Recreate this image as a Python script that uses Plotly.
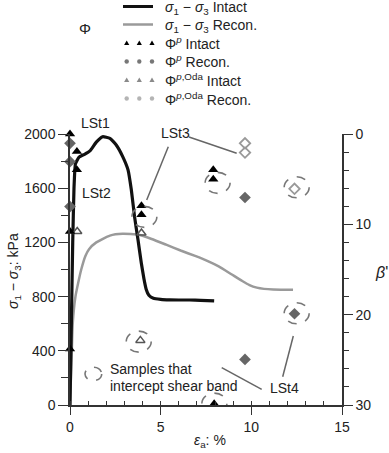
import plotly.graph_objects as go

# ---------------- data ----------------
intact_x = [0, 0.05, 0.1, 0.15, 0.22, 0.3, 0.5, 0.8, 1.1, 1.45, 1.8, 2.2, 2.55, 2.9, 3.2, 3.38,
            3.56, 3.75, 3.93, 4.08, 4.2, 4.35, 4.6, 5.0, 5.5, 6.0, 6.6, 7.2, 7.95]
intact_y = [0, 400, 800, 1200, 1600, 1780, 1830, 1850, 1875, 1940, 1980, 1968, 1919, 1835, 1735, 1590,
            1390, 1220, 1050, 930, 855, 810, 788, 780, 776, 775, 775, 772, 768]

recon_x = [0, 0.05, 0.1, 0.15, 0.3, 0.45, 0.62, 0.85, 1.05, 1.45, 2.2, 2.9, 3.8, 4.5, 5.3, 6.1,
           6.9, 7.6, 8.2, 8.9, 9.5, 9.9, 10.3, 10.7, 11.2, 11.7, 12.3]
recon_y = [0, 200, 400, 600, 800, 900, 1000, 1100, 1150, 1200, 1250, 1263, 1256, 1225, 1183, 1140,
           1100, 1062, 1023, 965, 915, 885, 866, 857, 852, 851, 850]

# Phi values plotted against beta' (right axis)
phi_p_int_x = [0, 0.38, 0.38, 0, 0, 3.94, 3.94, 7.9, 7.9, 7.95]
phi_p_int_b = [0, 1.95, 3.97, 10.8, 23.8, 7.95, 8.94, 3.97, 5.0, 29.85]

phi_p_rec_x = [0, 0, 0, 9.65, 12.38, 9.65]
phi_p_rec_b = [1.03, 3.06, 8.03, 7.03, 19.9, 24.95]

phi_oda_int_x = [0.4, 3.94, 3.88]
phi_oda_int_b = [10.8, 10.96, 22.85]

phi_oda_rec_x = [9.65, 9.65, 12.38]
phi_oda_rec_b = [1.03, 2.06, 6.07]

# highlighted samples (dashed ellipses), x and beta'
circ_x = [4.1, 8.14, 12.5, 12.5, 3.79, 7.96]
circ_b = [9.17, 5.41, 5.9, 19.85, 22.98, 29.85]

# ---------------- layout geometry ----------------
W, H = 389, 453
ML, MR, MT, MB = 70, 47, 134, 48
PW, PH = W - ML - MR, H - MT - MB
XR, YR = (0, 15), (0, 2000)


def pxx(p):  # pixel x -> paper
    return (p - ML) / PW


def pxy(p):  # pixel y -> paper
    return (H - MB - p) / PH


INK = "#222222"
FONT = "Arial, Liberation Sans, sans-serif"

fig = go.Figure()

fig.add_trace(go.Scatter(x=recon_x, y=recon_y, mode="lines",
                         line=dict(color="#9a9a9a", width=2.5, shape="spline", smoothing=0.5),
                         showlegend=False, hoverinfo="skip"))
fig.add_trace(go.Scatter(x=intact_x, y=intact_y, mode="lines",
                         line=dict(color="#111111", width=3.2, shape="spline", smoothing=0.4),
                         showlegend=False, hoverinfo="skip"))

fig.add_trace(go.Scatter(x=phi_p_rec_x, y=phi_p_rec_b, yaxis="y2", mode="markers", cliponaxis=False,
                         marker=dict(symbol="diamond", size=9, color="#666666"), showlegend=False))
fig.add_trace(go.Scatter(x=phi_oda_rec_x, y=phi_oda_rec_b, yaxis="y2", mode="markers", cliponaxis=False,
                         marker=dict(symbol="diamond-open", size=8, color="#999999", line=dict(width=1.8)),
                         showlegend=False))
fig.add_trace(go.Scatter(x=phi_oda_int_x, y=phi_oda_int_b, yaxis="y2", mode="markers", cliponaxis=False,
                         marker=dict(symbol="triangle-up-open", size=8, color="#555555", line=dict(width=1.5)),
                         showlegend=False))
fig.add_trace(go.Scatter(x=phi_p_int_x, y=phi_p_int_b, yaxis="y2", mode="markers", cliponaxis=False,
                         marker=dict(symbol="triangle-up", size=9, color="#000000"), showlegend=False))

# ---------------- custom legend ----------------
rows_y = [8.5, 25.5, 43, 61.5, 80, 98.5]
leg_texts = [
    "<i>σ</i><sub>1</sub> − <i>σ</i><sub>3</sub> Intact",
    "<i>σ</i><sub>1</sub> − <i>σ</i><sub>3</sub> Recon.",
    "Φ<sup><i>p</i></sup> Intact",
    "Φ<sup><i>p</i></sup> Recon.",
    "Φ<sup><i>p</i>,Oda</sup> Intact",
    "Φ<sup><i>p</i>,Oda</sup> Recon.",
]
shapes = []
annotations = []
for ry, col, w in [(rows_y[0] - 2, "#111111", 3), (rows_y[1] - 1, "#9a9a9a", 2.5)]:
    shapes.append(dict(type="line", xref="paper", yref="paper", x0=pxx(123), x1=pxx(153),
                       y0=pxy(ry), y1=pxy(ry), line=dict(color=col, width=w)))
leg_mk = [("tri", "#000000"), ("dot", "#777777"), ("tri", "#8a8a8a"), ("dot", "#b4b4b4")]
for i, (sym, col) in enumerate(leg_mk):
    ry = rows_y[i + 2]
    for mx in (126.7, 139.3, 152):
        base = dict(xref="paper", yref="paper", xsizemode="pixel", ysizemode="pixel",
                    xanchor=pxx(mx), yanchor=pxy(ry), fillcolor=col, line=dict(width=0))
        if sym == "tri":
            shapes.append(dict(type="path", path="M -2.6 -2 L 2.6 -2 L 0 2.6 Z", **base))
        else:
            shapes.append(dict(type="circle", x0=-2.2, x1=2.2, y0=-2.2, y1=2.2, **base))
for ry, t in zip(rows_y, leg_texts):
    annotations.append(dict(x=pxx(163), y=pxy(ry), xref="paper", yref="paper", text=t, showarrow=False,
                            xanchor="left", yanchor="middle", font=dict(size=14, color=INK, family=FONT)))

# ---------------- dashed ellipses ----------------
for cx, cb in zip(circ_x, circ_b):
    shapes.append(dict(type="circle", xref="x", yref="y2", xsizemode="pixel", ysizemode="pixel",
                       xanchor=cx, yanchor=cb, x0=-12.5, x1=12.5, y0=-10.5, y1=10.5,
                       line=dict(color="#777777", width=1.6, dash="dash")))
# legend ellipse for "Samples that intercept shear band"
shapes.append(dict(type="circle", xref="paper", yref="paper", x0=pxx(85), x1=pxx(101.7),
                   y0=pxy(380.7), y1=pxy(367.3), line=dict(color="#777777", width=1.6, dash="dash")))

# ---------------- leader lines ----------------
for (a, b, c, d) in [(168.3, 146.7, 146.7, 200), (189, 137, 236.7, 153.3),
                     (282.7, 376.7, 293.3, 336), (221.7, 367.7, 261.7, 389.3)]:
    shapes.append(dict(type="line", xref="paper", yref="paper", x0=pxx(a), y0=pxy(b), x1=pxx(c), y1=pxy(d),
                       line=dict(color="#666666", width=1.5)))

# ---------------- text labels ----------------
def txt(x, y, t, size=14, anchor="center", angle=0):
    annotations.append(dict(x=pxx(x), y=pxy(y), xref="paper", yref="paper", text=t, showarrow=False,
                            xanchor=anchor, yanchor="middle", textangle=angle,
                            font=dict(size=size, color=INK, family=FONT)))


txt(95, 123, "LSt1")
txt(96, 193, "LSt2")
txt(175, 133, "LSt3")
txt(284, 388, "LSt4")
txt(108, 369, "Samples that", anchor="left")
txt(108, 386, "intercept shear band", anchor="left")
txt(85, 29, "Φ", size=15)
txt(14, 271, "<i>σ</i><sub>1</sub> − <i>σ</i><sub>3</sub>: kPa", angle=-90)
txt(210, 441, "<i>ε</i><sub>a</sub>: %")
txt(381, 272, "<i>β</i>'", size=16)

axis_common = dict(showline=True, linecolor="#333333", linewidth=1.5, showgrid=False, zeroline=False,
                   tickcolor="#333333", tickwidth=1.3, tickfont=dict(size=14, color=INK, family=FONT))

fig.update_layout(
    width=W, height=H, margin=dict(l=ML, r=MR, t=MT, b=MB),
    paper_bgcolor="white", plot_bgcolor="white", showlegend=False,
    xaxis=dict(range=list(XR), dtick=5, ticks="outside", ticklen=8,
               minor=dict(dtick=1, ticks="inside", ticklen=4, tickcolor="#333333", tickwidth=1.2),
               **axis_common),
    yaxis=dict(range=list(YR), dtick=400, ticks="outside", ticklen=10,
               minor=dict(dtick=200, ticks="outside", ticklen=7, tickcolor="#333333", tickwidth=1.2),
               **axis_common),
    yaxis2=dict(range=[30, 0], dtick=10, ticks="outside", ticklen=9, overlaying="y", side="right",
                anchor="x",
                minor=dict(dtick=2, ticks="outside", ticklen=5, tickcolor="#333333", tickwidth=1.2),
                **axis_common),
    shapes=shapes, annotations=annotations,
)

fig.write_html("out.html")
